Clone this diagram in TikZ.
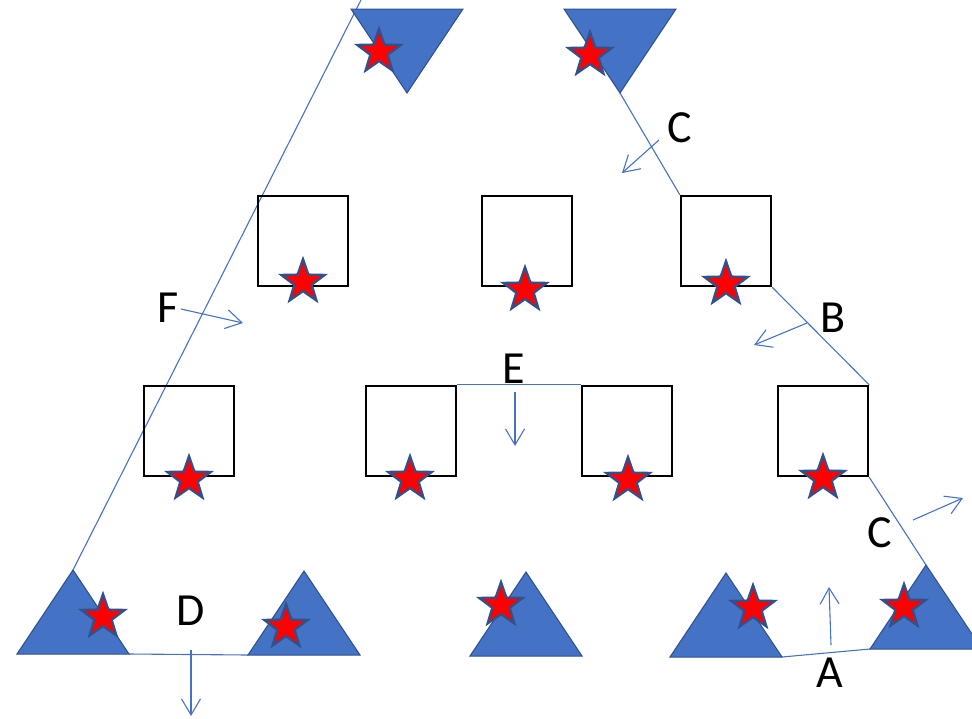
\documentclass[tikz,border=0pt]{standalone}
\usepackage{fontspec}
\setmainfont{Carlito}
\usetikzlibrary{calc,arrows.meta,shapes.geometric,backgrounds}
\definecolor{officeblue}{HTML}{4472C4}
\definecolor{darkblue}{HTML}{2F528F}
\tikzstyle{box} = [draw, line width=2.4pt, minimum size=90pt, inner sep=0pt]
\tikzstyle{redstar} = [star, star points=5, star point ratio=2.5, fill=red, draw=darkblue, line width=2.2pt, minimum size=46pt, inner sep=0pt]
\tikzstyle{tri} = [fill=officeblue, draw=darkblue, line width=1pt]
\tikzstyle{link} = [officeblue, line width=1.1pt]
\tikzstyle{flow} = [officeblue, line width=1.1pt, -{Straight Barb[length=16pt,width=19pt]}]
\tikzstyle{lbl} = [font=\fontsize{46}{50}\selectfont, inner sep=0pt]

\begin{document}
\begin{tikzpicture}[x=1pt, y=-1pt]
\useasboundingbox (0,0) rectangle (972,718);
\clip (0,0) rectangle (972,718);

% triangles pointing up (bottom row)
\foreach \n/\x/\y in {1/73/654, 2/304/655, 3/526/656, 4/726/657, 5/926/649}
  \filldraw[tri] (\x-56,\y) coordinate (t\n-l) -- (\x,\y-84) coordinate (t\n-a) -- (\x+56,\y) coordinate (t\n-r) -- cycle;

% triangles pointing down (top)
\foreach \n/\x in {1/407, 2/620}
  \filldraw[tri] (\x-56,9) coordinate (u\n-l) -- (\x+56,9) coordinate (u\n-r) -- (\x,93) coordinate (u\n-a) -- cycle;

\node (s1) [box] at (303,241) {};
\node (s2) [box] at (527,241) {};
\node (s3) [box] at (726,241) {};
\node (s4) [box] at (189,431) {};
\node (s5) [box] at (411,431) {};
\node (s6) [box] at (627,431) {};
\node (s7) [box] at (823,431) {};

\node (st1) [redstar] at (303,282) {};
\node (st2) [redstar] at (525,290) {};
\node (st3) [redstar] at (726,284) {};
\node (st4) [redstar] at (189,479) {};
\node (st5) [redstar] at (410,479) {};
\node (st6) [redstar] at (628,480) {};
\node (st7) [redstar] at (823,478) {};

\node (sb1) [redstar] at (103,617) {};
\node (sb2) [redstar] at (286,627) {};
\node (sb3) [redstar] at (501,605) {};
\node (sb4) [redstar] at (753,608) {};
\node (sb5) [redstar] at (904,607) {};
\node (su1) [redstar] at (379,52) {};
\node (su2) [redstar] at (590,55) {};

\coordinate (fend) at (361,0);

\begin{pgfonlayer}{background}
\draw[link] (t1-a) -- (fend);
\draw[link] (u2-a) -- (s3.north west);
\draw[link] (s3.south east) -- (s7.north east);
\draw[link] (s7.south east) -- (t5-a);
\draw[link] (t4-r) -- (t5-l);
\draw[link] (t1-r) -- (t2-l);
\draw[link] (s5.north east) -- (s6.north west);
\end{pgfonlayer}

\coordinate (fC1) at (659,140);
\coordinate (fB) at (807,323);
\coordinate (fC2) at (913,520);
\coordinate (fA) at (831,645);
\coordinate (fD) at (191,650);
\coordinate (fE) at (515,392);
\coordinate (fF) at (181,309);

\draw[flow] (fC1) -- ++(-37,33);
\draw[flow] (fB) -- ++(-53,22);
\draw[flow] (fC2) -- ++(50,-22);
\draw[flow] (fA) -- ++(-2,-58);
\draw[flow] (fD) -- ++(0,66);
\draw[flow] (fE) -- ++(0,54);
\draw[flow] (fF) -- ++(62,14);

\node (lC1) [lbl] at (680,128) {C};
\node (lB) [lbl] at (833,318) {B};
\node (lC2) [lbl] at (880,533) {C};
\node (lA) [lbl] at (830,673) {A};
\node (lD) [lbl] at (191,611) {D};
\node (lE) [lbl] at (514,369) {E};
\node (lF) [lbl] at (168,308) {F};

\end{tikzpicture}
\end{document}
